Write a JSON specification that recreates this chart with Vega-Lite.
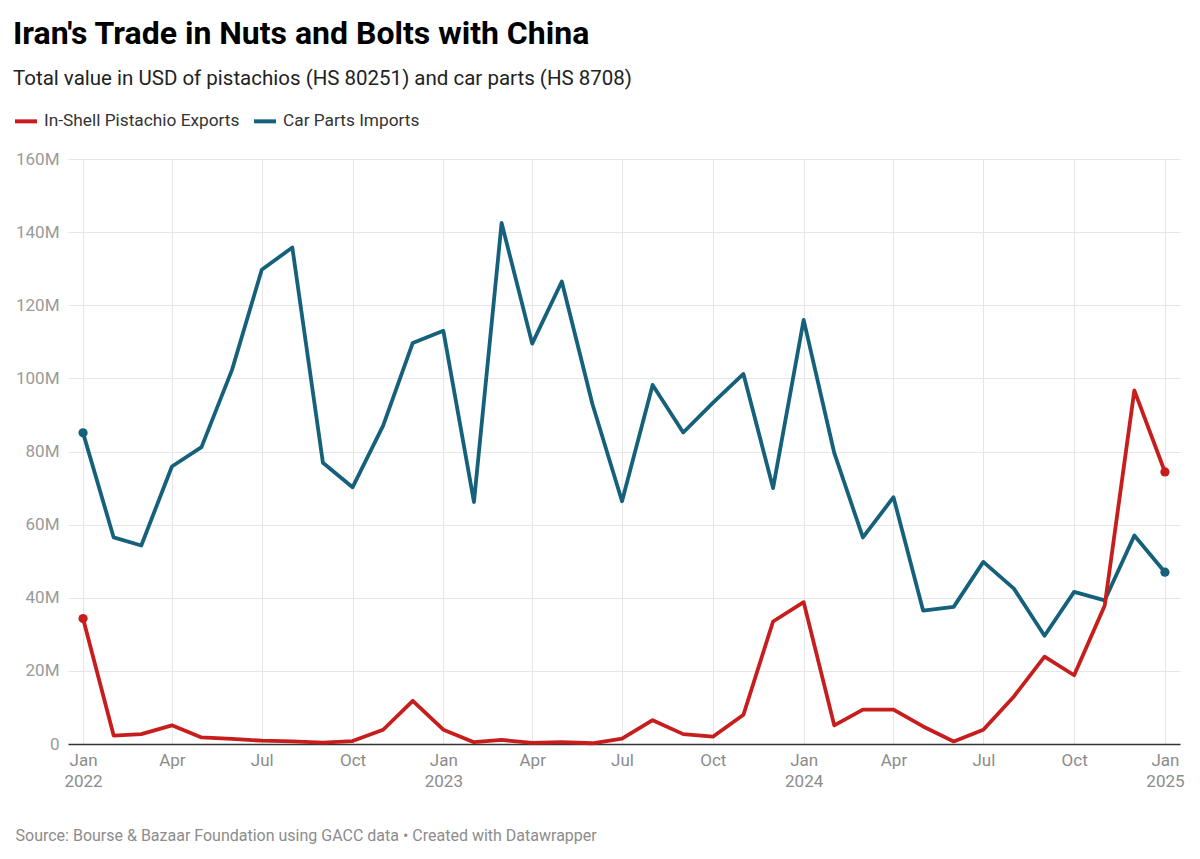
{
  "$schema": "https://vega.github.io/schema/vega-lite/v6.json",
  "width": 1112,
  "height": 585,
  "padding": {"left": 13, "top": 17, "right": 20, "bottom": 15},
  "background": "white",
  "config": {"view": {"stroke": null}, "font": "Roboto"},
  "title": {
    "text": "Iran's Trade in Nuts and Bolts with China",
    "subtitle": "Total value in USD of pistachios (HS 80251) and car parts (HS 8708)",
    "anchor": "start",
    "frame": "bounds",
    "font": "Roboto",
    "fontSize": 32,
    "fontWeight": "bold",
    "color": "#000000",
    "subtitleFont": "Roboto",
    "subtitleFontSize": 20.5,
    "subtitleColor": "#222222",
    "subtitlePadding": 18,
    "offset": 18
  },
  "data": {
    "values": [
      {"date": "2022-01-01", "series": "Car Parts Imports", "value": 85.1},
      {"date": "2022-02-01", "series": "Car Parts Imports", "value": 56.5},
      {"date": "2022-03-01", "series": "Car Parts Imports", "value": 54.3},
      {"date": "2022-04-01", "series": "Car Parts Imports", "value": 75.9},
      {"date": "2022-05-01", "series": "Car Parts Imports", "value": 81.2},
      {"date": "2022-06-01", "series": "Car Parts Imports", "value": 102.4},
      {"date": "2022-07-01", "series": "Car Parts Imports", "value": 129.7},
      {"date": "2022-08-01", "series": "Car Parts Imports", "value": 135.8},
      {"date": "2022-09-01", "series": "Car Parts Imports", "value": 76.9},
      {"date": "2022-10-01", "series": "Car Parts Imports", "value": 70.2},
      {"date": "2022-11-01", "series": "Car Parts Imports", "value": 87.1},
      {"date": "2022-12-01", "series": "Car Parts Imports", "value": 109.7},
      {"date": "2023-01-01", "series": "Car Parts Imports", "value": 113.0},
      {"date": "2023-02-01", "series": "Car Parts Imports", "value": 66.2},
      {"date": "2023-03-01", "series": "Car Parts Imports", "value": 142.5},
      {"date": "2023-04-01", "series": "Car Parts Imports", "value": 109.5},
      {"date": "2023-05-01", "series": "Car Parts Imports", "value": 126.5},
      {"date": "2023-06-01", "series": "Car Parts Imports", "value": 93.0},
      {"date": "2023-07-01", "series": "Car Parts Imports", "value": 66.4},
      {"date": "2023-08-01", "series": "Car Parts Imports", "value": 98.2},
      {"date": "2023-09-01", "series": "Car Parts Imports", "value": 85.2},
      {"date": "2023-10-01", "series": "Car Parts Imports", "value": 93.3},
      {"date": "2023-11-01", "series": "Car Parts Imports", "value": 101.2},
      {"date": "2023-12-01", "series": "Car Parts Imports", "value": 70.0},
      {"date": "2024-01-01", "series": "Car Parts Imports", "value": 116.0},
      {"date": "2024-02-01", "series": "Car Parts Imports", "value": 79.6},
      {"date": "2024-03-01", "series": "Car Parts Imports", "value": 56.5},
      {"date": "2024-04-01", "series": "Car Parts Imports", "value": 67.5},
      {"date": "2024-05-01", "series": "Car Parts Imports", "value": 36.5},
      {"date": "2024-06-01", "series": "Car Parts Imports", "value": 37.5},
      {"date": "2024-07-01", "series": "Car Parts Imports", "value": 49.8},
      {"date": "2024-08-01", "series": "Car Parts Imports", "value": 42.5},
      {"date": "2024-09-01", "series": "Car Parts Imports", "value": 29.6},
      {"date": "2024-10-01", "series": "Car Parts Imports", "value": 41.6},
      {"date": "2024-11-01", "series": "Car Parts Imports", "value": 39.3},
      {"date": "2024-12-01", "series": "Car Parts Imports", "value": 57.0},
      {"date": "2025-01-01", "series": "Car Parts Imports", "value": 47.0},
      {"date": "2022-01-01", "series": "In-Shell Pistachio Exports", "value": 34.3},
      {"date": "2022-02-01", "series": "In-Shell Pistachio Exports", "value": 2.3},
      {"date": "2022-03-01", "series": "In-Shell Pistachio Exports", "value": 2.7},
      {"date": "2022-04-01", "series": "In-Shell Pistachio Exports", "value": 5.1},
      {"date": "2022-05-01", "series": "In-Shell Pistachio Exports", "value": 1.8},
      {"date": "2022-06-01", "series": "In-Shell Pistachio Exports", "value": 1.4},
      {"date": "2022-07-01", "series": "In-Shell Pistachio Exports", "value": 0.9},
      {"date": "2022-08-01", "series": "In-Shell Pistachio Exports", "value": 0.7},
      {"date": "2022-09-01", "series": "In-Shell Pistachio Exports", "value": 0.4},
      {"date": "2022-10-01", "series": "In-Shell Pistachio Exports", "value": 0.8},
      {"date": "2022-11-01", "series": "In-Shell Pistachio Exports", "value": 3.9},
      {"date": "2022-12-01", "series": "In-Shell Pistachio Exports", "value": 11.8},
      {"date": "2023-01-01", "series": "In-Shell Pistachio Exports", "value": 3.9},
      {"date": "2023-02-01", "series": "In-Shell Pistachio Exports", "value": 0.5},
      {"date": "2023-03-01", "series": "In-Shell Pistachio Exports", "value": 1.1},
      {"date": "2023-04-01", "series": "In-Shell Pistachio Exports", "value": 0.3},
      {"date": "2023-05-01", "series": "In-Shell Pistachio Exports", "value": 0.5},
      {"date": "2023-06-01", "series": "In-Shell Pistachio Exports", "value": 0.2},
      {"date": "2023-07-01", "series": "In-Shell Pistachio Exports", "value": 1.5},
      {"date": "2023-08-01", "series": "In-Shell Pistachio Exports", "value": 6.5},
      {"date": "2023-09-01", "series": "In-Shell Pistachio Exports", "value": 2.7},
      {"date": "2023-10-01", "series": "In-Shell Pistachio Exports", "value": 2.0},
      {"date": "2023-11-01", "series": "In-Shell Pistachio Exports", "value": 8.0},
      {"date": "2023-12-01", "series": "In-Shell Pistachio Exports", "value": 33.5},
      {"date": "2024-01-01", "series": "In-Shell Pistachio Exports", "value": 38.8},
      {"date": "2024-02-01", "series": "In-Shell Pistachio Exports", "value": 5.1},
      {"date": "2024-03-01", "series": "In-Shell Pistachio Exports", "value": 9.4},
      {"date": "2024-04-01", "series": "In-Shell Pistachio Exports", "value": 9.4},
      {"date": "2024-05-01", "series": "In-Shell Pistachio Exports", "value": 4.8},
      {"date": "2024-06-01", "series": "In-Shell Pistachio Exports", "value": 0.7},
      {"date": "2024-07-01", "series": "In-Shell Pistachio Exports", "value": 3.9},
      {"date": "2024-08-01", "series": "In-Shell Pistachio Exports", "value": 13.0},
      {"date": "2024-09-01", "series": "In-Shell Pistachio Exports", "value": 23.9},
      {"date": "2024-10-01", "series": "In-Shell Pistachio Exports", "value": 18.8},
      {"date": "2024-11-01", "series": "In-Shell Pistachio Exports", "value": 37.9},
      {"date": "2024-12-01", "series": "In-Shell Pistachio Exports", "value": 96.7},
      {"date": "2025-01-01", "series": "In-Shell Pistachio Exports", "value": 74.4}
    ]
  },
  "encoding": {
    "x": {
      "field": "date",
      "type": "temporal",
      "scale": {
        "type": "utc",
        "domain": [
          {"year": 2021, "month": 12, "date": 16, "hours": 18, "utc": true},
          {"year": 2025, "month": 1, "date": 16, "hours": 6, "utc": true}
        ]
      },
      "axis": {
        "values": [
          {"year": 2022, "month": 1, "date": 1, "utc": true},
          {"year": 2022, "month": 4, "date": 1, "utc": true},
          {"year": 2022, "month": 7, "date": 1, "utc": true},
          {"year": 2022, "month": 10, "date": 1, "utc": true},
          {"year": 2023, "month": 1, "date": 1, "utc": true},
          {"year": 2023, "month": 4, "date": 1, "utc": true},
          {"year": 2023, "month": 7, "date": 1, "utc": true},
          {"year": 2023, "month": 10, "date": 1, "utc": true},
          {"year": 2024, "month": 1, "date": 1, "utc": true},
          {"year": 2024, "month": 4, "date": 1, "utc": true},
          {"year": 2024, "month": 7, "date": 1, "utc": true},
          {"year": 2024, "month": 10, "date": 1, "utc": true},
          {"year": 2025, "month": 1, "date": 1, "utc": true}
        ],
        "labelExpr": "utcFormat(datum.value, '%m') == '01' ? [utcFormat(datum.value, '%b'), utcFormat(datum.value, '%Y')] : utcFormat(datum.value, '%b')",
        "labelFont": "Roboto",
        "labelFontSize": 17,
        "labelColor": "#8c8c8c",
        "labelPadding": 8,
        "labelLineHeight": 21,
        "labelFlush": false,
        "labelOverlap": false,
        "ticks": false,
        "grid": true,
        "gridColor": "#e6e6e6",
        "gridWidth": 1,
        "domain": true,
        "domainColor": "#333333",
        "domainWidth": 1.5,
        "title": "Source: Bourse & Bazaar Foundation using GACC data • Created with Datawrapper",
        "titleFont": "Roboto",
        "titleFontSize": 16,
        "titleFontWeight": "normal",
        "titleColor": "#8c8c8c",
        "titleAnchor": "start",
        "titleAlign": "left",
        "titleBaseline": "alphabetic",
        "titleX": -53,
        "titleY": 96
      }
    },
    "y": {
      "field": "value",
      "type": "quantitative",
      "scale": {"domain": [0, 160], "nice": false},
      "axis": {
        "values": [0, 20, 40, 60, 80, 100, 120, 140, 160],
        "labelExpr": "datum.value == 0 ? '0' : datum.value + 'M'",
        "labelFont": "Roboto",
        "labelFontSize": 17,
        "labelColor": "#9a9a9a",
        "labelPadding": 9,
        "ticks": false,
        "domain": false,
        "grid": true,
        "gridColor": "#e6e6e6",
        "gridWidth": 1,
        "title": null
      }
    },
    "color": {
      "field": "series",
      "type": "nominal",
      "scale": {
        "domain": ["In-Shell Pistachio Exports", "Car Parts Imports"],
        "range": ["#c71e1d", "#15607a"]
      },
      "legend": {
        "orient": "none",
        "legendX": -55,
        "legendY": -51,
        "direction": "horizontal",
        "title": null,
        "symbolType": "stroke",
        "symbolStrokeWidth": 4,
        "symbolSize": 484,
        "labelFont": "Roboto",
        "labelFontSize": 17.3,
        "labelLimit": 0,
        "labelColor": "#333333",
        "labelOffset": 5,
        "columnPadding": 6
      }
    }
  },
  "layer": [
    {
      "mark": {"type": "line", "strokeWidth": 3.8, "strokeJoin": "round", "strokeCap": "round"}
    },
    {
      "transform": [
        {"filter": "time(datum.date) == utc(2022, 0, 1) || time(datum.date) == utc(2025, 0, 1)"}
      ],
      "mark": {"type": "circle", "size": 85, "opacity": 1}
    }
  ]
}
